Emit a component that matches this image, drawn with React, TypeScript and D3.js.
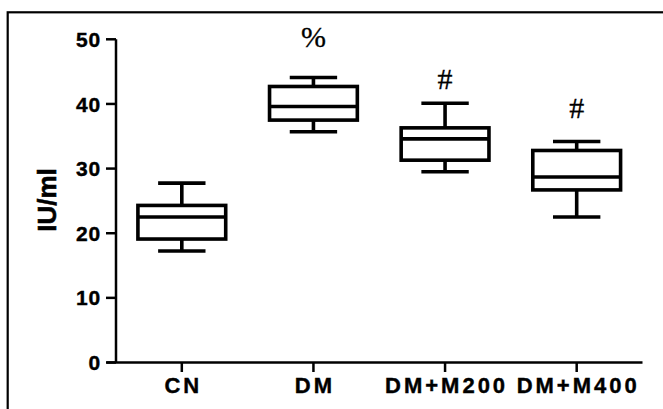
import React from "react";
import * as d3 from "d3";

const categories = ["CN", "DM", "DM+M200", "DM+M400"];
const whiskerLow = [17.25, 35.7, 29.5, 22.5];
const q1 = [19.1, 37.5, 31.3, 26.7];
const median = [22.5, 39.6, 34.6, 28.7];
const q3 = [24.3, 42.7, 36.3, 32.8];
const whiskerHigh = [27.75, 44.1, 40.1, 34.2];
const annotations = ["", "%", "#", "#"];
const annotationY = [0, 48.8, 42.3, 37.8];
const yTicks = [0, 10, 20, 30, 40, 50];
const yLabel = "IU/ml";

export default function App() {
  const W = 663;
  const H = 409;
  const axisX = 116;
  const y = d3.scaleLinear().domain([0, 50]).range([362.5, 39.3]);
  const x = d3.scaleBand().domain(categories).range([axisX, 642.5]).padding(0);
  const bw = x.bandwidth();
  const boxW = bw * 0.667;
  const capW = bw * 0.36;
  const sw = 3.6;
  const labelFont = "'Liberation Sans', Arial, sans-serif";
  const xLs = 3;

  return (
    <svg
      width={W}
      height={H}
      style={{ position: "absolute", left: 0, top: 0, background: "#fff" }}
    >
      <rect x={0} y={0} width={W} height={H} fill="#fff" />
      <rect x={7.7} y={12.3} width={720} height={520} fill="none" stroke="#000" strokeWidth={2.2} />

      {/* y axis */}
      <line x1={axisX} x2={axisX} y1={y(50)} y2={y(0)} stroke="#000" strokeWidth={2.5} />
      {yTicks.map((t) => (
        <g key={t}>
          <line x1={axisX - 10} x2={axisX} y1={y(t)} y2={y(t)} stroke="#000" strokeWidth={2.5} />
          <text
            x={101}
            y={y(t)}
            dy="0.36em"
            textAnchor="end"
            fontFamily={labelFont}
            fontWeight="bold"
            fontSize={21}
            letterSpacing={0.8}
            fill="#000"
            stroke="#000"
            strokeWidth={0.4}
          >
            {t}
          </text>
        </g>
      ))}

      {/* x axis */}
      <line x1={axisX - 9.5} x2={642.5} y1={y(0)} y2={y(0)} stroke="#000" strokeWidth={2.5} />
      {categories.map((c) => {
        const cx = (x(c) as number) + bw / 2;
        return (
          <g key={c}>
            <line x1={cx} x2={cx} y1={y(0)} y2={y(0) + 9.5} stroke="#000" strokeWidth={2.5} />
            <text
              x={cx + xLs / 2}
              y={392.5}
              textAnchor="middle"
              fontFamily={labelFont}
              fontWeight="bold"
              fontSize={22}
              letterSpacing={xLs}
              fill="#000"
              stroke="#000"
              strokeWidth={0.4}
            >
              {c}
            </text>
          </g>
        );
      })}

      {/* y label */}
      <text
        transform={`translate(56,200) rotate(-90)`}
        textAnchor="middle"
        fontFamily={labelFont}
        fontWeight="bold"
        fontSize={26}
        fill="#000"
        stroke="#000"
        strokeWidth={0.6}
      >
        {yLabel}
      </text>

      {/* boxes */}
      {categories.map((c, i) => {
        const cx = (x(c) as number) + bw / 2;
        return (
          <g key={c} stroke="#000" strokeWidth={sw} fill="none">
            <line x1={cx} x2={cx} y1={y(whiskerHigh[i])} y2={y(q3[i])} />
            <line x1={cx} x2={cx} y1={y(q1[i])} y2={y(whiskerLow[i])} />
            <line x1={cx - capW / 2} x2={cx + capW / 2} y1={y(whiskerHigh[i])} y2={y(whiskerHigh[i])} />
            <line x1={cx - capW / 2} x2={cx + capW / 2} y1={y(whiskerLow[i])} y2={y(whiskerLow[i])} />
            <rect
              x={cx - boxW / 2}
              y={y(q3[i])}
              width={boxW}
              height={y(q1[i]) - y(q3[i])}
              fill="#fff"
            />
            <line x1={cx - boxW / 2} x2={cx + boxW / 2} y1={y(median[i])} y2={y(median[i])} />
          </g>
        );
      })}

      {/* annotations */}
      {categories.map((c, i) =>
        annotations[i] ? (
          <text
            key={"a" + c}
            x={(x(c) as number) + bw / 2}
            y={y(annotationY[i])}
            textAnchor="middle"
            fontFamily="'Liberation Serif', 'Times New Roman', serif"
            fontSize={30}
            fill="#000"
            stroke="#000"
            strokeWidth={0.3}
          >
            {annotations[i]}
          </text>
        ) : null
      )}
    </svg>
  );
}
